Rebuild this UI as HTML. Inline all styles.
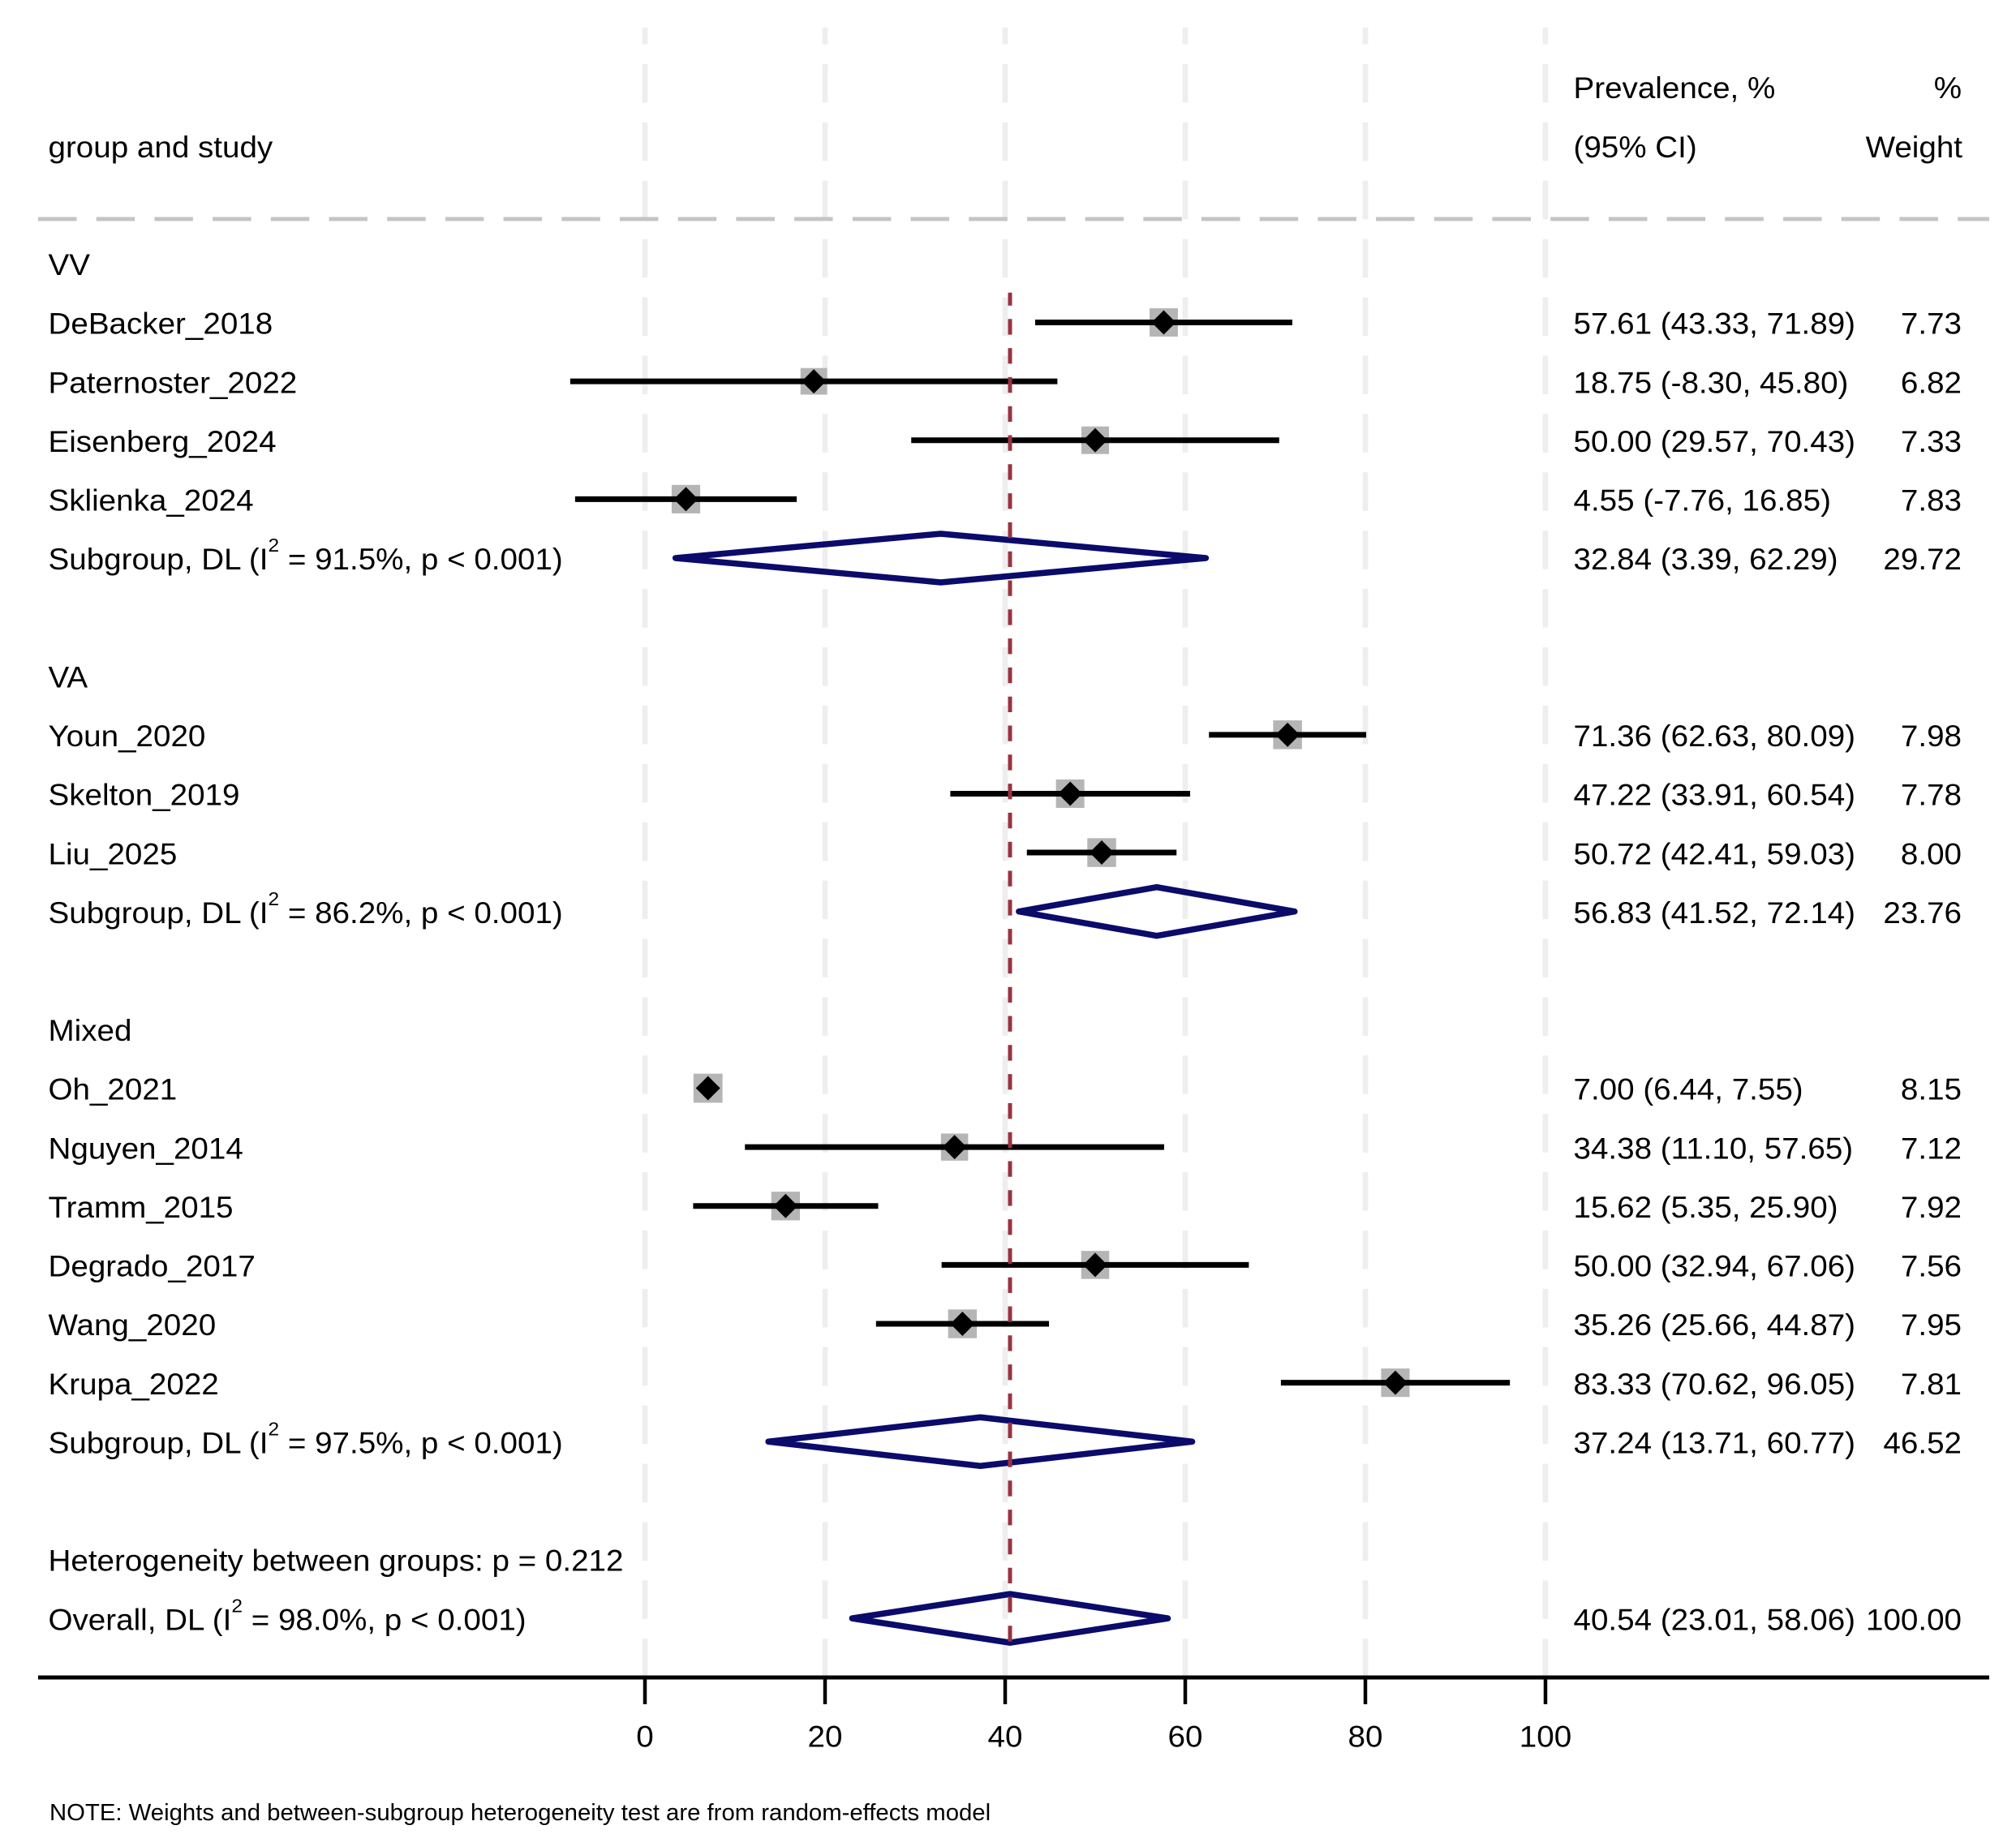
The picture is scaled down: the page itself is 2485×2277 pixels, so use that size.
<!DOCTYPE html>
<html lang="en">
<head>
<meta charset="utf-8">
<title>Forest plot of prevalence by group and study</title>
<style>
html,body{margin:0;padding:0;background:#fff;}
svg{display:block;}
text{font-family:"Liberation Sans",Arial,sans-serif;fill:#000;}
</style>
</head>
<body>
<svg id="forest-plot" xmlns="http://www.w3.org/2000/svg" width="2485" height="2277" viewBox="0 0 2485 2277">
<rect x="0" y="0" width="2485" height="2277" fill="#ffffff"></rect>
</svg>
<script>
const groupNames = ['VV', 'VA', 'Mixed'];
const studyNames = ['DeBacker_2018', 'Paternoster_2022', 'Eisenberg_2024', 'Sklienka_2024', 'Youn_2020', 'Skelton_2019', 'Liu_2025', 'Oh_2021', 'Nguyen_2014', 'Tramm_2015', 'Degrado_2017', 'Wang_2020', 'Krupa_2022'];
const studyGroups = ['VV', 'VV', 'VV', 'VV', 'VA', 'VA', 'VA', 'Mixed', 'Mixed', 'Mixed', 'Mixed', 'Mixed', 'Mixed'];
const studyEstimates = [57.61, 18.75, 50.00, 4.55, 71.36, 47.22, 50.72, 7.00, 34.38, 15.62, 50.00, 35.26, 83.33];
const studyLower = [43.33, -8.30, 29.57, -7.76, 62.63, 33.91, 42.41, 6.44, 11.10, 5.35, 32.94, 25.66, 70.62];
const studyUpper = [71.89, 45.80, 70.43, 16.85, 80.09, 60.54, 59.03, 7.55, 57.65, 25.90, 67.06, 44.87, 96.05];
const studyWeights = [7.73, 6.82, 7.33, 7.83, 7.98, 7.78, 8.00, 8.15, 7.12, 7.92, 7.56, 7.95, 7.81];
const subgroupEstimates = [32.84, 56.83, 37.24];
const subgroupLower = [3.39, 41.52, 13.71];
const subgroupUpper = [62.29, 72.14, 60.77];
const subgroupWeights = [29.72, 23.76, 46.52];
const subgroupI2 = [91.5, 86.2, 97.5];
const overallEstimate = [40.54];
const overallLower = [23.01];
const overallUpper = [58.06];
const overallWeight = [100.00];
const overallI2 = [98.0];
const betweenGroupsP = ['0.212'];
const xTicks = [0, 20, 40, 60, 80, 100];

const svg = document.getElementById('forest-plot');
const NS = 'http://www.w3.org/2000/svg';
const X0 = 795, X_PER_UNIT = 11.1;
const ROW0 = 107.0, ROW_STEP = 72.62;
const AXIS_Y = 2068;
const FONT = 37, STRETCH = 1.043, BASE = 14.2;
const LEFT_X = 59.5, CI_X = 1939.5, WEIGHT_X = 2418;

function xScale(v) { return X0 + X_PER_UNIT * v; }
function yRow(r) { return ROW0 + ROW_STEP * r; }
function make(tag, attrs) {
  const el = document.createElementNS(NS, tag);
  for (const k in attrs) el.setAttribute(k, attrs[k]);
  svg.appendChild(el);
  return el;
}
function label(str, x, y, anchor, size, stretch) {
  const el = make('text', {
    transform: 'translate(' + x + ',' + y + ') scale(' + stretch + ',1)',
    'text-anchor': anchor,
    'font-size': size
  });
  el.textContent = str;
  return el;
}
function rowText(str, x, r, anchor) {
  return label(str, x, yRow(r) + BASE, anchor, FONT, STRETCH);
}
function heteroText(prefix, i2, r) {
  const el = make('text', {
    transform: 'translate(' + LEFT_X + ',' + (yRow(r) + BASE) + ') scale(' + STRETCH + ',1)',
    'font-size': FONT
  });
  const a = document.createElementNS(NS, 'tspan');
  a.textContent = prefix + ' (I';
  el.appendChild(a);
  const b = document.createElementNS(NS, 'tspan');
  b.setAttribute('dy', -22);
  b.setAttribute('font-size', 23.5);
  b.textContent = '2';
  el.appendChild(b);
  const c = document.createElementNS(NS, 'tspan');
  c.setAttribute('dy', 22);
  c.textContent = ' = ' + i2.toFixed(1) + '%, p < 0.001)';
  el.appendChild(c);
  return el;
}
function ciString(e, l, u) {
  return e.toFixed(2) + ' (' + l.toFixed(2) + ', ' + u.toFixed(2) + ')';
}

/* layout: walk the groups and assign a row to every entry */
const studyRows = [];
const groupRows = [];
const subgroupRows = [];
let cursor = 3;
groupNames.forEach(function (g) {
  groupRows.push(cursor);
  cursor += 1;
  studyGroups.forEach(function (sg, i) {
    if (sg === g) {
      studyRows[i] = cursor;
      cursor += 1;
    }
  });
  subgroupRows.push(cursor);
  cursor += 2;
});
const hetRow = cursor;
const overallRow = cursor + 1;

/* vertical grid lines */
xTicks.forEach(function (t) {
  const grid = make('line', {
    x1: xScale(t), x2: xScale(t), y1: 34, y2: AXIS_Y,
    stroke: '#eeeeee', 'stroke-width': 6.5,
    'stroke-dasharray': '47.5 24.4', 'stroke-dashoffset': 26.9
  });
  
  
});

/* header separator */
const headerRule = make('line', {
  x1: 47, x2: 2452, y1: 270, y2: 270,
  stroke: '#c4c4c4', 'stroke-width': 5, 'stroke-dasharray': '47.5 24.2'
});



/* header text */
const headStudy = rowText('group and study', LEFT_X, 1, 'start');


const headPrev = rowText('Prevalence, %', CI_X, 0, 'start');


const headCi = rowText('(95% CI)', CI_X, 1, 'start');


const headPct = rowText('%', WEIGHT_X, 0, 'end');


const headWeight = rowText('Weight', WEIGHT_X + 1, 1, 'end');



/* group labels */
groupNames.forEach(function (g, i) {
  const t = rowText(g, LEFT_X, groupRows[i], 'start');
  
  
});

/* study weight squares */
studyNames.forEach(function (name, i) {
  const side = 12.55 * Math.sqrt(studyWeights[i]);
  const sq = make('rect', {
    x: xScale(studyEstimates[i]) - side / 2,
    y: yRow(studyRows[i]) - side / 2,
    width: side, height: side, fill: '#b5b5b5'
  });
  
  
});

/* study confidence intervals */
studyNames.forEach(function (name, i) {
  const y = yRow(studyRows[i]);
  const ci = make('line', {
    x1: xScale(studyLower[i]), x2: xScale(studyUpper[i]), y1: y, y2: y,
    stroke: '#000000', 'stroke-width': 7
  });
  
  
});

/* study point estimates */
studyNames.forEach(function (name, i) {
  const cx = xScale(studyEstimates[i]);
  const cy = yRow(studyRows[i]);
  const pts = [[cx - 15, cy], [cx, cy - 15], [cx + 15, cy], [cx, cy + 15]];
  const dot = make('polygon', {
    points: pts.map(function (p) { return p.join(','); }).join(' '),
    fill: '#000000'
  });
  
  
});

/* pooled diamonds */
function diamond(e, l, u, r) {
  const y = yRow(r);
  const h = 30;
  const pts = [[xScale(l), y], [xScale(e), y - h], [xScale(u), y], [xScale(e), y + h]];
  return make('polygon', {
    points: pts.map(function (p) { return p.join(','); }).join(' '),
    fill: 'none', stroke: '#0b0b6b', 'stroke-width': 7.5, 'stroke-linejoin': 'round'
  });
}
subgroupEstimates.forEach(function (e, i) {
  const d = diamond(e, subgroupLower[i], subgroupUpper[i], subgroupRows[i]);
  
  
});
const overallDiamond = diamond(overallEstimate[0], overallLower[0], overallUpper[0], overallRow);



/* overall reference line */
const refLine = make('line', {
  x1: xScale(overallEstimate[0]), x2: xScale(overallEstimate[0]), y1: 360.7, y2: 2032,
  stroke: '#983440', 'stroke-width': 5,
  'stroke-dasharray': '19.3 16.5', 'stroke-dashoffset': 3.2
});



/* study text columns */
studyNames.forEach(function (name, i) {
  const r = studyRows[i];
  const a = rowText(name, LEFT_X, r, 'start');
  
  
  const b = rowText(ciString(studyEstimates[i], studyLower[i], studyUpper[i]), CI_X, r, 'start');
  
  
  const c = rowText(studyWeights[i].toFixed(2), WEIGHT_X, r, 'end');
  
  
});

/* subgroup text columns */
subgroupEstimates.forEach(function (e, i) {
  const r = subgroupRows[i];
  const key = groupNames[i].toLowerCase();
  const a = heteroText('Subgroup, DL', subgroupI2[i], r);
  
  
  const b = rowText(ciString(e, subgroupLower[i], subgroupUpper[i]), CI_X, r, 'start');
  
  
  const c = rowText(subgroupWeights[i].toFixed(2), WEIGHT_X, r, 'end');
  
  
});

/* heterogeneity and overall rows */
const hetLabel = rowText('Heterogeneity between groups: p = ' + betweenGroupsP[0], LEFT_X, hetRow, 'start');


const overallLabel = heteroText('Overall, DL', overallI2[0], overallRow);


const overallCi = rowText(ciString(overallEstimate[0], overallLower[0], overallUpper[0]), CI_X, overallRow, 'start');


const overallW = rowText(overallWeight[0].toFixed(2), WEIGHT_X, overallRow, 'end');



/* x axis */
const axisLine = make('line', {
  x1: 47, x2: 2452, y1: AXIS_Y, y2: AXIS_Y, stroke: '#000000', 'stroke-width': 5
});


xTicks.forEach(function (t) {
  const tick = make('line', {
    x1: xScale(t), x2: xScale(t), y1: AXIS_Y, y2: 2101, stroke: '#000000', 'stroke-width': 4.5
  });
  
  
  const lab = label(String(t), xScale(t), 2153.5, 'middle', FONT, STRETCH);
  
  
});

/* footnote */
const note = label('NOTE: Weights and between-subgroup heterogeneity test are from random-effects model', 61, 2244, 'start', 29, 1.011);


</script>
</body>
</html>
